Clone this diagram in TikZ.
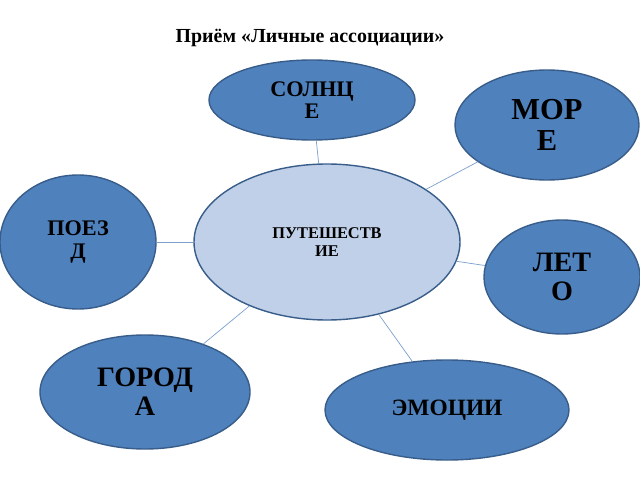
\documentclass[tikz,border=0pt]{standalone}
\usepackage{fontspec}
\setmainfont{Liberation Serif}
\usetikzlibrary{shapes.geometric}
\definecolor{bubblefill}{HTML}{4F81BD}
\definecolor{bubbleline}{HTML}{385D8A}
\definecolor{hubfill}{HTML}{BFD0E8}
\definecolor{linkcolor}{HTML}{7BA0CD}
\begin{document}
\begin{tikzpicture}[x=0.03cm, y=-0.03cm,
  bubble/.style={ellipse, draw=bubbleline, line width=1.2pt, fill=bubblefill, inner sep=0pt, align=center, font=\bfseries, text=black},
  hub/.style={ellipse, draw=bubbleline, line width=1.2pt, fill=hubfill, inner sep=0pt, align=center, font=\bfseries\fontsize{14}{15}\selectfont},
  link/.style={draw=linkcolor, line width=0.6pt}
]
  \useasboundingbox (0,0) rectangle (640,480);
  % Title
  \node[font=\bfseries\fontsize{17}{20}\selectfont] (title) at (310,38) {Приём «Личные ассоциации»};

  % Hub
  \node[hub, minimum width=266*0.03cm, minimum height=156*0.03cm] (travel) at (327,242) {ПУТЕШЕСТВ\\ИЕ};

  % Associations
  \node[bubble, minimum width=206*0.03cm, minimum height=80*0.03cm, font=\bfseries\fontsize{19}{19}\selectfont] (sun) at (312,100) {СОЛНЦ\\Е};
  \node[bubble, minimum width=184*0.03cm, minimum height=110*0.03cm, font=\bfseries\fontsize{26}{27}\selectfont] (sea) at (547,125) {МОР\\Е};
  \node[bubble, minimum width=156*0.03cm, minimum height=134*0.03cm, font=\bfseries\fontsize{19}{20}\selectfont] (train) at (78,242) {ПОЕЗ\\Д};
  \node[bubble, minimum width=156*0.03cm, minimum height=114*0.03cm, font=\bfseries\fontsize{24}{25}\selectfont] (summer) at (562,277) {ЛЕТ\\О};
  \node[bubble, minimum width=210*0.03cm, minimum height=114*0.03cm, font=\bfseries\fontsize{24}{25}\selectfont] (cities) at (145,392) {ГОРОД\\А};
  \node[bubble, minimum width=244*0.03cm, minimum height=100*0.03cm, font=\bfseries\fontsize{20}{21}\selectfont] (emotions) at (447,410) {ЭМОЦИИ};

  % Links
  \draw[link] (travel) -- (sun);
  \draw[link] (travel) -- (sea);
  \draw[link] (travel) -- (train);
  \draw[link] (travel) -- (summer);
  \draw[link] (travel) -- (cities);
  \draw[link] (travel) -- (emotions);
\end{tikzpicture}
\end{document}
